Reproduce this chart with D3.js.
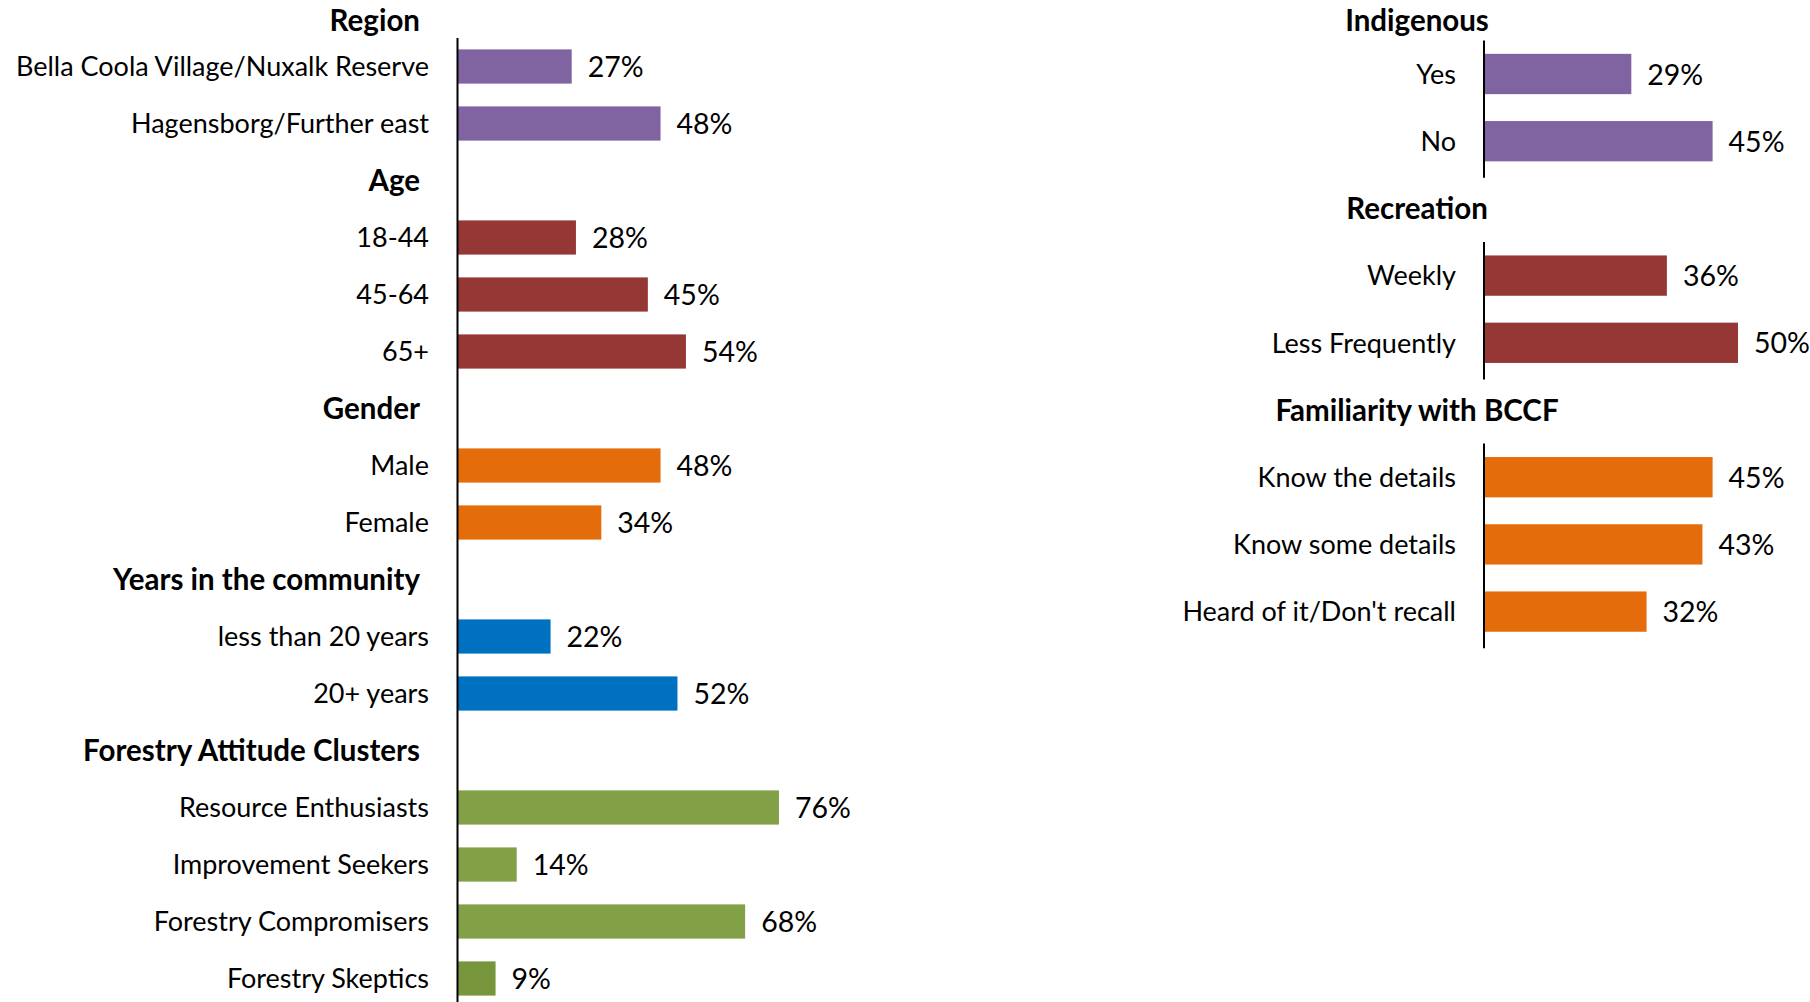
<!DOCTYPE html>
<html>
<head>
<meta charset="utf-8">
<script src="https://cdn.jsdelivr.net/npm/d3@7"></script>
<style>
  html, body { margin: 0; padding: 0; background: #ffffff; }
  svg { display: block; }
  text { font-family: Lato, "Noto Sans", "DejaVu Sans", sans-serif; fill: #000; }
</style>
</head>
<body>
<svg id="chart" width="1810" height="1002"></svg>
<script>
// ---- Left panel rows (null value = group heading) ----
const leftLabels = [
  "Region", "Bella Coola Village/Nuxalk Reserve", "Hagensborg/Further east",
  "Age", "18-44", "45-64", "65+",
  "Gender", "Male", "Female",
  "Years in the community", "less than 20 years", "20+ years",
  "Forestry Attitude Clusters", "Resource Enthusiasts", "Improvement Seekers",
  "Forestry Compromisers", "Forestry Skeptics"
];
const leftValues = [
  null, 27, 48,
  null, 28, 45, 54,
  null, 48, 34,
  null, 22, 52,
  null, 76, 14, 68, 9
];
const leftGroups = [
  "region", "region", "region",
  "age", "age", "age", "age",
  "gender", "gender", "gender",
  "years", "years", "years",
  "cluster", "cluster", "cluster", "cluster", "cluster"
];

// ---- Right panel rows ----
const rightLabels = [
  "Indigenous", "Yes", "No",
  "Recreation", "Weekly", "Less Frequently",
  "Familiarity with BCCF", "Know the details", "Know some details", "Heard of it/Don't recall"
];
const rightValues = [
  null, 29, 45,
  null, 36, 50,
  null, 45, 43, 32
];
const rightGroups = [
  "indigenous", "indigenous", "indigenous",
  "recreation", "recreation", "recreation",
  "familiarity", "familiarity", "familiarity", "familiarity"
];

// Group colours
const groupColor = {
  region: "#8064A2", indigenous: "#8064A2",
  age: "#953735", recreation: "#953735",
  gender: "#E46C0A", familiarity: "#E46C0A",
  years: "#0070C0",
  cluster: "#82A046"
};
const rowColorOverride = { "Forestry Skeptics": "#77963C" };

const svg = d3.select("#chart");
const CAT_FONT = 27;     // category label size
const VAL_FONT = 28.5;   // value label size
const HEAD_FONT = 29.5;  // group heading size

function drawPanel(cfg) {
  const rows = d3.range(cfg.labels.length);
  const y = d3.scaleBand()
    .domain(rows)
    .range(cfg.yRange)
    .paddingInner(0.4)
    .paddingOuter(0.2);
  const x = d3.scaleLinear().domain([0, 100]).range([cfg.x0, cfg.x0 + cfg.pxPer100]);
  const step = y.step();
  const g = svg.append("g");
  const mid = i => y(i) + y.bandwidth() / 2;

  const isHead = i => cfg.values[i] === null;

  // bars
  const barRows = rows.filter(i => !isHead(i));
  g.selectAll("rect.bar").data(barRows).join("rect")
    .attr("class", "bar")
    .attr("x", x(0))
    .attr("y", i => y(i))
    .attr("width", i => x(cfg.values[i]) - x(0))
    .attr("height", y.bandwidth())
    .attr("fill", i => rowColorOverride[cfg.labels[i]] || groupColor[cfg.groups[i]]);

  // value labels
  g.selectAll("text.val").data(barRows).join("text")
    .attr("class", "val")
    .attr("x", i => x(cfg.values[i]) + 16)
    .attr("y", i => mid(i) + VAL_FONT * 0.37)
    .attr("font-size", VAL_FONT)
    .text(i => cfg.values[i] + "%");

  // category labels
  g.selectAll("text.cat").data(barRows).join("text")
    .attr("class", "cat")
    .attr("text-anchor", "end")
    .attr("x", cfg.labelRight)
    .attr("y", i => mid(i) + CAT_FONT * 0.36)
    .attr("font-size", CAT_FONT)
    .text(i => cfg.labels[i]);

  // group headings
  const headRows = rows.filter(isHead);
  g.selectAll("text.head").data(headRows).join("text")
    .attr("class", "head")
    .attr("text-anchor", cfg.headAnchor)
    .attr("font-weight", "bold")
    .attr("font-size", HEAD_FONT)
    .attr("x", cfg.headX)
    .attr("y", i => Math.max(mid(i), 20) + HEAD_FONT * 0.36)
    .text(i => cfg.labels[i]);

  // vertical category axis lines
  const segs = cfg.segments(rows, isHead);
  g.selectAll("line.axis").data(segs).join("line")
    .attr("class", "axis")
    .attr("x1", x(0)).attr("x2", x(0))
    .attr("y1", s => y(s[0]) - step * 0.2)
    .attr("y2", s => Math.min(y(s[1]) + y.bandwidth() + step * 0.2 + cfg.axisExtra, 1002))
    .attr("stroke", "#000")
    .attr("stroke-width", 2);
}

// left: one continuous axis under all rows after the first heading
drawPanel({
  labels: leftLabels, values: leftValues, groups: leftGroups,
  yRange: [-19, 1007],
  x0: 457.5, pxPer100: 423,
  labelRight: 429, headX: 420, headAnchor: "end",
  axisExtra: 0,
  segments: (rows) => [[1, rows.length - 1]]
});

// right: separate axis per group
drawPanel({
  labels: rightLabels, values: rightValues, groups: rightGroups,
  yRange: [-26.8, 645.2],
  x0: 1484, pxPer100: 508,
  labelRight: 1456, headX: 1417, headAnchor: "middle",
  axisExtra: 3,
  segments: (rows, isHead) => {
    const out = [];
    let start = null;
    rows.forEach(i => {
      if (!isHead(i)) { if (start === null) start = i; }
      else if (start !== null) { out.push([start, i - 1]); start = null; }
    });
    if (start !== null) out.push([start, rows.length - 1]);
    return out;
  }
});
</script>
</body>
</html>
